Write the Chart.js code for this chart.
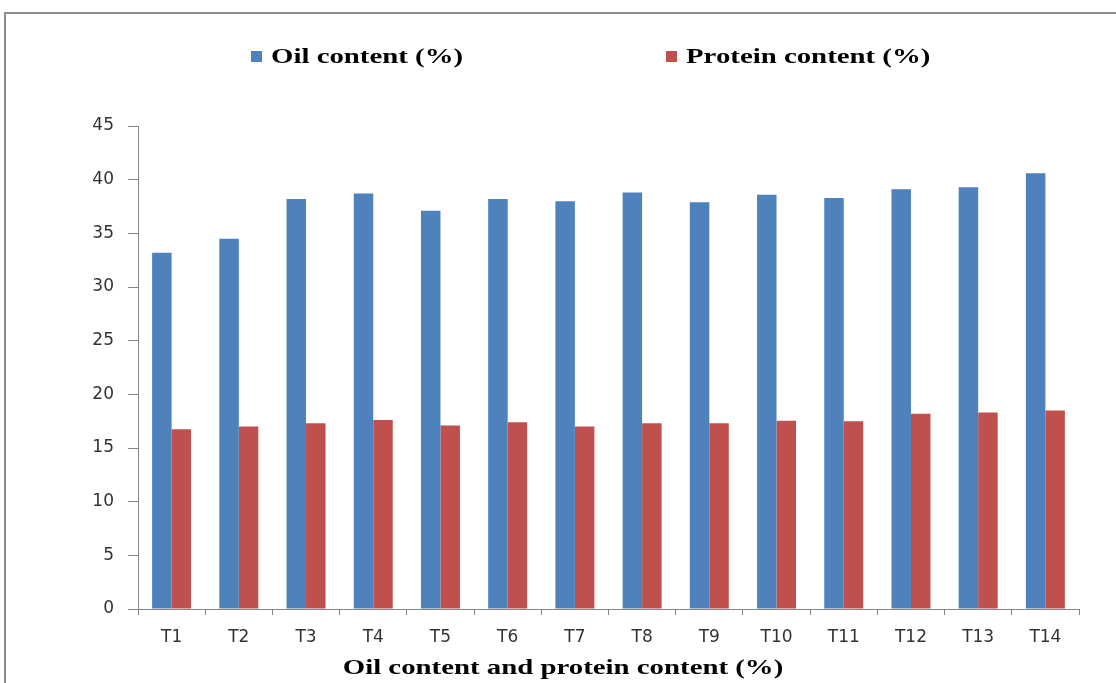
<!DOCTYPE html>
<html>
<head>
<meta charset="utf-8">
<script src="https://cdn.jsdelivr.net/npm/chart.js@4.4.0/dist/chart.umd.min.js"></script>
<style>
  body { margin: 0; background: #fff; overflow: hidden; }
  #frame {
    position: absolute; left: 4px; top: 12px;
    width: 1200px; height: 800px;
    border: 2px solid #8c8c8c;
  }
  #chart { position: absolute; left: 0; top: 0; }
</style>
</head>
<body>
<div id="frame"></div>
<canvas id="chart" width="1116" height="683"></canvas>
<script>
const categories = ["T1", "T2", "T3", "T4", "T5", "T6", "T7", "T8", "T9", "T10", "T11", "T12", "T13", "T14"];
const oilContent = [33.2, 34.5, 38.2, 38.7, 37.1, 38.2, 38.0, 38.8, 37.9, 38.6, 38.3, 39.1, 39.3, 40.6];
const proteinContent = [16.75, 17.0, 17.3, 17.6, 17.1, 17.4, 17.0, 17.3, 17.3, 17.55, 17.5, 18.2, 18.3, 18.5];
const seriesNames = ["Oil content (%)", "Protein content (%)"];
const xTitle = "Oil content and protein content (%)";

const axisGray = "#868686";
const serifBold = "bold 22px 'Liberation Serif', 'Times New Roman', serif";

// legend and axis title drawn stretched, like the original picture
const stretchedText = {
  id: "stretchedText",
  afterDraw(chart) {
    const ctx = chart.ctx;
    const sx = 1.31;
    ctx.save();
    ctx.font = serifBold;
    ctx.fillStyle = "#000";
    ctx.textBaseline = "middle";

    const legendX = [251, 666];
    chart.data.datasets.forEach((ds, i) => {
      ctx.fillStyle = ds.backgroundColor;
      ctx.fillRect(legendX[i], 51, 11, 11);
      ctx.fillStyle = "#000";
      ctx.save();
      ctx.translate(legendX[i] + 20, 57);
      ctx.scale(sx, 1);
      ctx.textAlign = "left";
      ctx.fillText(ds.label, 0, 0);
      ctx.restore();
    });

    ctx.save();
    ctx.translate(563, 668);
    ctx.scale(sx, 1);
    ctx.textAlign = "center";
    ctx.fillText(xTitle, 0, 0);
    ctx.restore();

    ctx.restore();
  }
};

const ctx = document.getElementById("chart").getContext("2d");

new Chart(ctx, {
  type: "bar",
  data: {
    labels: categories,
    datasets: [
      {
        label: seriesNames[0],
        data: oilContent,
        backgroundColor: "#4F81BD",
        categoryPercentage: 0.58,
        barPercentage: 1.0,
      },
      {
        label: seriesNames[1],
        data: proteinContent,
        backgroundColor: "#C0504D",
        categoryPercentage: 0.58,
        barPercentage: 1.0,
      },
    ],
  },
  options: {
    responsive: false,
    animation: false,
    layout: { padding: { left: 0, right: 37, top: 126, bottom: 0 } },
    plugins: {
      legend: { display: false },
      tooltip: { enabled: false },
    },
    scales: {
      x: {
        grid: {
          display: true,
          drawOnChartArea: false,
          offset: true,
          tickLength: 6,
          color: axisGray,
        },
        border: { color: axisGray, width: 1 },
        ticks: {
          font: { family: "'DejaVu Sans', Verdana, sans-serif", size: 17 },
          color: "#333",
          padding: 12,
          maxRotation: 0,
        },
        afterFit(scale) { scale.height = 74; },
      },
      y: {
        min: 0,
        max: 45,
        grid: {
          display: true,
          drawOnChartArea: false,
          tickLength: 10,
          color: axisGray,
        },
        border: { color: axisGray, width: 1 },
        ticks: {
          stepSize: 5,
          font: { family: "'DejaVu Sans', Verdana, sans-serif", size: 17 },
          color: "#333",
          padding: 14,
        },
        afterFit(scale) { scale.width = 138; },
      },
    },
  },
  plugins: [stretchedText],
});
</script>
</body>
</html>
